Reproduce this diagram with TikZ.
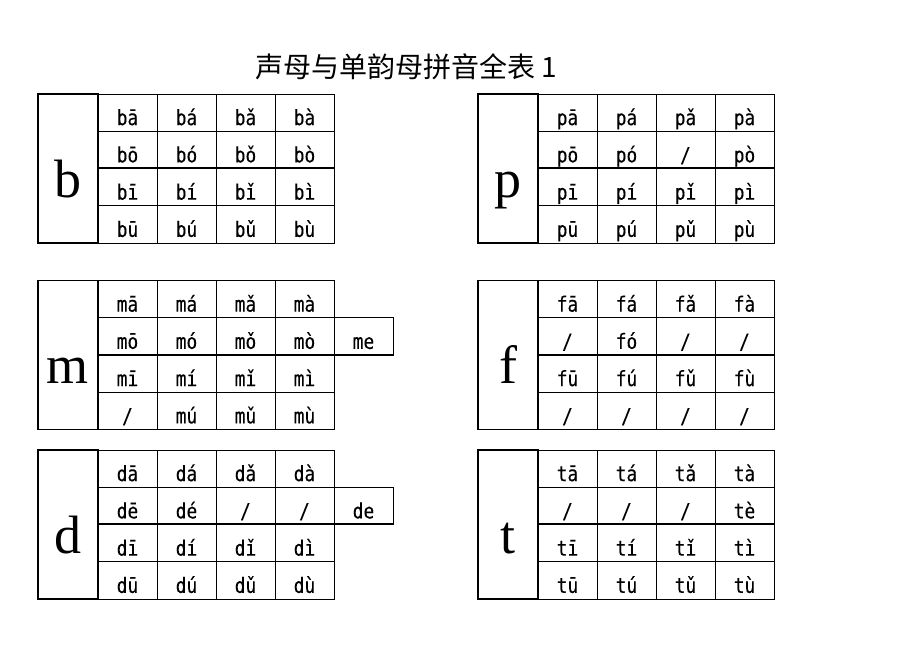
\documentclass[tikz,border=0pt]{standalone}
\usepackage{fontspec}
\usepackage{tikz}
\usetikzlibrary{positioning}
\setmainfont{Liberation Serif}
\newfontfamily\cjk{Noto Sans CJK SC}
\newfontfamily\pyfont[FakeStretch=0.85,FakeBold=0.2]{DejaVu Sans Mono}
\newfontfamily\bigfont{Liberation Serif}

% one initial with its 4x4 block of syllables
\newcommand{\pytable}[4]{%
  \node (#3) [head] at (#1+30,#2+74.5) {#3};
  \foreach \txt [count=\i from 0] in {#4} {
    \pgfmathtruncatemacro\row{int(\i/4)}
    \pgfmathtruncatemacro\col{mod(\i,4)}
    \node (#3-\i) [cell] at (#1+89.5+59*\col,#2+18.6+37.25*\row) {\txt};
  }
  \draw [midline] (#3-4.south west) -- (#3-7.south east);
}

\begin{document}
\begin{tikzpicture}[x=1pt,y=-1pt]
    % Define block styles
    \tikzstyle{cell} = [rectangle, draw=black, line width=0.9pt, minimum width=59pt, minimum height=37.25pt, inner sep=0pt, outer sep=0pt, text height=28pt, text depth=3pt, text centered, font=\pyfont\fontsize{21}{21}\selectfont]
    \tikzstyle{head} = [rectangle, draw=black, line width=1.1pt, minimum width=60pt, minimum height=149pt, inner sep=0pt, outer sep=0pt, text height=60pt, text depth=3pt, font=\bigfont\fontsize{54}{54}\selectfont]
    \tikzstyle{midline} = [line width=2pt]

    \useasboundingbox (0,0) rectangle (920,651);

    % Title
    \node (title) at (406,67) {\cjk\fontsize{28}{28}\selectfont 声母与单韵母拼音全表 1};

    % Left column
    \pytable{38}{94}{b}{bā,bá,bǎ,bà,bō,bó,bǒ,bò,bī,bí,bǐ,bì,bū,bú,bǔ,bù}
    \pytable{38}{280.5}{m}{mā,má,mǎ,mà,mō,mó,mǒ,mò,mī,mí,mǐ,mì,/,mú,mǔ,mù}
    \pytable{38}{450}{d}{dā,dá,dǎ,dà,dē,dé,/,/,dī,dí,dǐ,dì,dū,dú,dǔ,dù}

    % Right column
    \pytable{478}{94}{p}{pā,pá,pǎ,pà,pō,pó,/,pò,pī,pí,pǐ,pì,pū,pú,pǔ,pù}
    \pytable{478}{280.5}{f}{fā,fá,fǎ,fà,/,fó,/,/,fū,fú,fǔ,fù,/,/,/,/}
    \pytable{478}{450}{t}{tā,tá,tǎ,tà,/,/,/,tè,tī,tí,tǐ,tì,tū,tú,tǔ,tù}

    % Extra cells
    \node (me) [cell, right=0pt of m-7] {me};
    \node (de) [cell, right=0pt of d-7] {de};
    \draw [midline] (m-7.south east) -- (me.south east);
    \draw [midline] (d-7.south east) -- (de.south east);

\end{tikzpicture}
\end{document}
